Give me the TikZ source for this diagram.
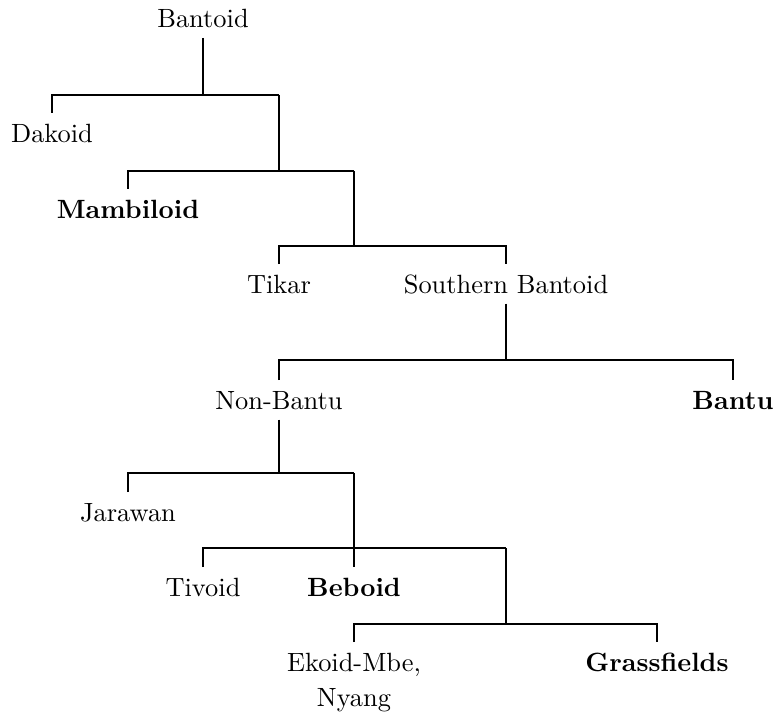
\documentclass[tikz,border=0pt]{standalone}
\usetikzlibrary{calc}

\tikzset{
  lang/.style = {text height=7pt, text depth=0pt, inner sep=3.8pt},
  bold/.style = {lang, font=\bfseries}
}

\begin{document}
\begin{tikzpicture}[x = 0.3788pt, y = -0.3788pt]

  \useasboundingbox (0,0) rectangle (775,714);

  % Label the groups
  \node[lang, anchor=south] (bantoid) at (203,38) {Bantoid};
  \node[lang, anchor=north] (dakoid) at (52,113) {Dakoid};
  \node[bold, anchor=north] (mambiloid) at (128,189) {Mambiloid};
  \node[lang, anchor=north] (tikar) at (279,264) {Tikar};
  \node[lang, anchor=north] (southern) at (506,264) {Southern Bantoid};
  \node[lang, anchor=north] (nonbantu) at (279,380) {Non-Bantu};
  \node[bold, anchor=north] (bantu) at (733,380) {Bantu};
  \node[lang, anchor=north] (jarawan) at (128,492) {Jarawan};
  \node[lang, anchor=north] (tivoid) at (203,567) {Tivoid};
  \node[bold, anchor=north] (beboid) at (354,567) {Beboid};
  \node[lang, anchor=north] (ekoid) at (354,642)
    {\begin{tabular}[t]{@{}c@{}}Ekoid-Mbe,\\[1.3pt] Nyang\end{tabular}};
  \node[bold, anchor=north] (grassfields) at (657,642) {Grassfields};

  % Inner branches and bars
  \coordinate (b0) at (203,95);
  \coordinate (k1) at (279,95);
  \coordinate (k1bar) at (279,171);
  \coordinate (k2) at (354,171);
  \coordinate (k2bar) at (354,246);
  \coordinate (sbbar) at (506,360);
  \coordinate (nbbar) at (279,473);
  \coordinate (k3) at (354,473);
  \coordinate (k3bar) at (354,548);
  \coordinate (k4) at (506,548);
  \coordinate (k4bar) at (506,624);

  % Draw the tree
  \draw (bantoid.south) -- (b0);
  \draw (dakoid.north) |- (b0) -| (k1);
  \draw (k1) -- (k1bar);
  \draw (mambiloid.north) |- (k1bar) -| (k2);
  \draw (k2) -- (k2bar);
  \draw (tikar.north) |- (k2bar) -| (southern.north);
  \draw (southern.south) -- (sbbar);
  \draw (nonbantu.north) |- (sbbar) -| (bantu.north);
  \draw (nonbantu.south) -- (nbbar);
  \draw (jarawan.north) |- (nbbar) -| (k3);
  \draw (k3) -- (beboid.north);
  \draw (tivoid.north) |- (k3bar) -| (k4);
  \draw (k4) -- (k4bar);
  \draw (ekoid.north) |- (k4bar) -| (grassfields.north);

\end{tikzpicture}
\end{document}
